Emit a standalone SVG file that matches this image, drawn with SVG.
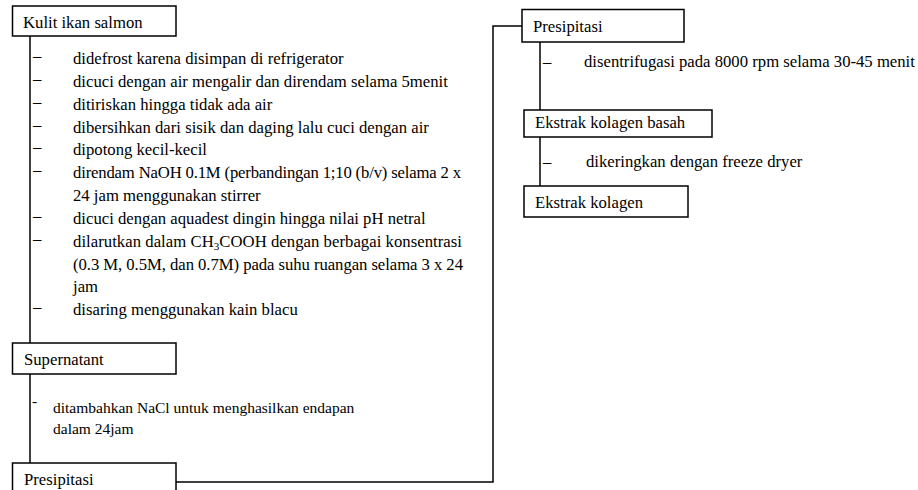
<svg xmlns="http://www.w3.org/2000/svg" width="918" height="490" viewBox="0 0 918 490">
<style>
  .box { fill: #fff; stroke: #000; stroke-width: 1.5; }
  .ln { fill: none; stroke: #000; stroke-width: 1.5; }
  .t { font-family: 'Liberation Serif', 'DejaVu Serif', serif; font-size: 16.7px; fill: #000; }
  .sm { font-size: 11px; }
  .s2 { font-size: 15.5px; }
</style>
<rect width="918" height="490" fill="#fff"/>
<g id="connectors">
  <line class="ln" x1="30" y1="36" x2="30" y2="343"/>
  <line class="ln" x1="30" y1="374" x2="30" y2="463"/>
  <polyline class="ln" points="176,482 493,482 493,26 522,26"/>
  <line class="ln" x1="540" y1="42" x2="540" y2="110"/>
  <line class="ln" x1="540" y1="137" x2="540" y2="186"/>
</g>
<g id="kulit">
  <rect class="box" x="12.5" y="6" width="163.5" height="30"/>
  <text class="t" x="23" y="28">Kulit ikan salmon</text>
</g>
<g id="steps1" class="t">
  <text x="33" y="61">–</text><text x="73" y="64">didefrost karena disimpan di refrigerator</text>
  <text x="33" y="84">–</text><text x="73" y="87">dicuci dengan air mengalir dan direndam selama 5menit</text>
  <text x="33" y="107">–</text><text x="73" y="110">ditiriskan hingga tidak ada air</text>
  <text x="33" y="130">–</text><text x="73" y="133">dibersihkan dari sisik dan daging lalu cuci dengan air</text>
  <text x="33" y="152">–</text><text x="73" y="155">dipotong kecil-kecil</text>
  <text x="33" y="175">–</text><text x="73" y="178" textLength="388" lengthAdjust="spacing">direndam NaOH 0.1M (perbandingan 1;10 (b/v) selama 2 x</text>
  <text x="73" y="201">24 jam menggunakan stirrer</text>
  <text x="33" y="221">–</text><text x="73" y="224">dicuci dengan aquadest dingin hingga nilai pH netral</text>
  <text x="33" y="244">–</text><text x="73" y="247" textLength="389" lengthAdjust="spacing">dilarutkan dalam CH<tspan class="sm" dy="3">3</tspan><tspan dy="-3">COOH  dengan berbagai konsentrasi</tspan></text>
  <text x="73" y="270" textLength="390" lengthAdjust="spacing">(0.3 M, 0.5M, dan 0.7M) pada suhu ruangan selama 3 x 24</text>
  <text x="73" y="292">jam</text>
  <text x="33" y="312">–</text><text x="73" y="315">disaring menggunakan kain blacu</text>
</g>
<g id="supernatant">
  <rect class="box" x="12.5" y="343" width="163.5" height="31"/>
  <text class="t" x="24" y="365">Supernatant</text>
</g>
<g id="steps2" class="t s2">
  <text x="32" y="406">-</text>
  <text x="53" y="413">ditambahkan NaCl untuk menghasilkan endapan</text>
  <text x="53" y="434">dalam 24jam</text>
</g>
<g id="presipitasi1">
  <rect class="box" x="12.5" y="463" width="163.5" height="32"/>
  <text class="t" x="24" y="485">Presipitasi</text>
</g>
<g id="presipitasi2">
  <rect class="box" x="522" y="9.5" width="162" height="32.5"/>
  <text class="t" x="533" y="32">Presipitasi</text>
</g>
<g id="steps3" class="t">
  <text x="543" y="67">–</text>
  <text x="584" y="67">disentrifugasi pada 8000 rpm selama 30-45 menit</text>
</g>
<g id="basah">
  <rect class="box" x="524" y="110" width="188" height="27"/>
  <text class="t" x="535" y="128">Ekstrak kolagen basah</text>
</g>
<g id="steps4" class="t">
  <text x="543" y="167">–</text>
  <text x="586" y="167">dikeringkan dengan freeze dryer</text>
</g>
<g id="kolagen">
  <rect class="box" x="524" y="186" width="164" height="31"/>
  <text class="t" x="535" y="208">Ekstrak kolagen</text>
</g>
</svg>
